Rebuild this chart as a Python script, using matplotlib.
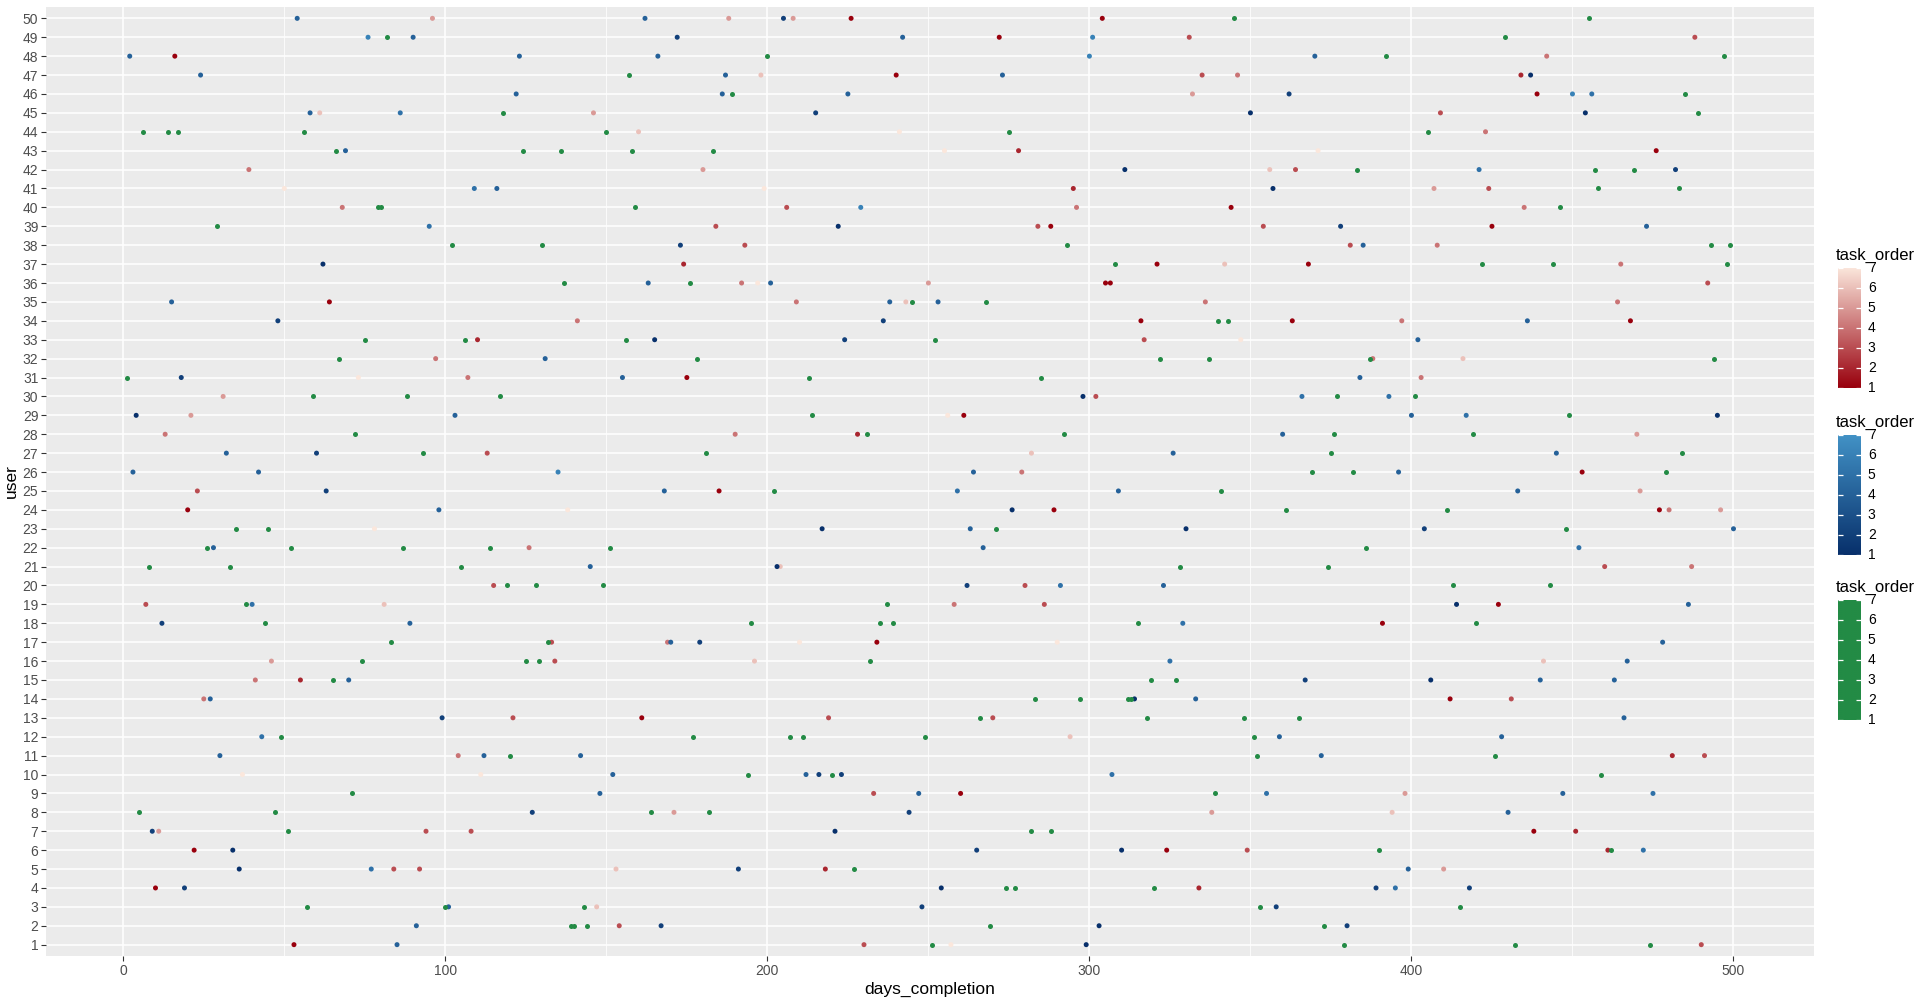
import numpy as np
import matplotlib
matplotlib.use("Agg")
import matplotlib.pyplot as plt
from matplotlib.colors import LinearSegmentedColormap, Normalize

plt.rcParams['font.family'] = ['Liberation Sans', 'DejaVu Sans']

# (user, days_completion, task_order)
red_pts = [
    (50, 96, 5), (50, 188, 5), (50, 208, 5), (50, 226, 1), (50, 304, 1),
    (49, 272, 1), (49, 331, 3), (49, 488, 3),
    (48, 16, 1), (48, 442, 4),
    (47, 198, 6), (47, 240, 1), (47, 335, 3), (47, 346, 4), (47, 434, 2),
    (46, 332, 5), (46, 439, 1),
    (45, 61, 6), (45, 146, 5), (45, 409, 3),
    (44, 160, 6), (44, 241, 7), (44, 423, 4),
    (43, 255, 7), (43, 278, 2), (43, 371, 7), (43, 476, 1),
    (42, 39, 4), (42, 180, 5), (42, 356, 6), (42, 364, 3),
    (41, 50, 7), (41, 199, 7), (41, 295, 2), (41, 407, 5), (41, 424, 3),
    (40, 68, 4), (40, 206, 3), (40, 296, 4), (40, 344, 1), (40, 435, 4),
    (39, 184, 3), (39, 284, 3), (39, 288, 1), (39, 354, 3), (39, 425, 1),
    (38, 193, 3), (38, 381, 3), (38, 408, 4),
    (37, 174, 2), (37, 321, 1), (37, 342, 6), (37, 368, 1), (37, 465, 4),
    (36, 192, 4), (36, 197, 7), (36, 250, 5), (36, 305, 1), (36, 306.5, 1), (36, 492, 3),
    (35, 64, 1), (35, 209, 4), (35, 243, 6), (35, 336, 4), (35, 464, 4),
    (34, 141, 4), (34, 316, 1), (34, 363, 1), (34, 397, 4), (34, 468, 1),
    (33, 110, 2), (33, 317, 3), (33, 347, 7),
    (32, 97, 4), (32, 388, 4), (32, 416, 6),
    (31, 73, 7), (31, 107, 4), (31, 175, 1), (31, 403, 4),
    (30, 31, 5), (30, 302, 3),
    (29, 21, 5), (29, 256, 7), (29, 261, 1),
    (28, 13, 4), (28, 190, 4), (28, 228, 2), (28, 470, 5),
    (27, 113, 3), (27, 282, 6),
    (26, 279, 4), (26, 453, 1),
    (25, 23, 3), (25, 185, 1), (25, 471, 5),
    (24, 20, 1), (24, 138, 7), (24, 289, 1), (24, 477, 1), (24, 480, 4), (24, 496, 5),
    (23, 78, 7),
    (22, 126, 4),
    (21, 204, 6), (21, 460, 3), (21, 487, 4),
    (20, 115, 3), (20, 280, 3),
    (19, 7, 3), (19, 81, 6), (19, 258, 4), (19, 286, 3), (19, 427, 1),
    (18, 391, 1),
    (17, 133, 3), (17, 169, 4), (17, 210, 7), (17, 234, 1), (17, 290, 7),
    (16, 46, 5), (16, 134, 3), (16, 196, 6), (16, 441, 6),
    (15, 41, 4), (15, 55, 2),
    (14, 25, 4), (14, 412, 1), (14, 431, 3),
    (13, 121, 3), (13, 161, 1), (13, 219, 3), (13, 270, 3),
    (12, 294, 6),
    (11, 104, 4), (11, 481, 2), (11, 491, 3),
    (10, 37, 7), (10, 111, 7),
    (9, 233, 3), (9, 260, 1), (9, 398, 5),
    (8, 171, 5), (8, 338, 5), (8, 394, 6),
    (7, 11, 5), (7, 94, 3), (7, 108, 3), (7, 438, 1), (7, 451, 2),
    (6, 22, 1), (6, 324, 1), (6, 349, 3), (6, 461, 2),
    (5, 84, 3), (5, 92, 3), (5, 153, 6), (5, 218, 2), (5, 410, 5),
    (4, 10, 1), (4, 334, 2),
    (3, 147, 6),
    (2, 154, 3),
    (1, 53, 1), (1, 230, 3), (1, 257, 7), (1, 490, 3),
]

blue_pts = [
    (50, 54, 4), (50, 162, 4), (50, 205, 2),
    (49, 76, 6), (49, 90, 4), (49, 172, 2), (49, 242, 4), (49, 301, 6),
    (48, 2, 4), (48, 123, 4), (48, 166, 4), (48, 300, 6), (48, 370, 4),
    (47, 24, 4), (47, 187, 4), (47, 273, 4), (47, 437, 1),
    (46, 122, 4), (46, 186, 4), (46, 225, 4), (46, 362, 2), (46, 450, 6), (46, 456, 5),
    (45, 58, 4), (45, 86, 5), (45, 215, 2), (45, 350, 1), (45, 454, 1),
    (43, 69, 4),
    (42, 311, 1), (42, 421, 5), (42, 482, 2),
    (41, 109, 5), (41, 116, 4), (41, 357, 1),
    (40, 229, 6),
    (39, 95, 5), (39, 222, 1), (39, 378, 2), (39, 473, 4),
    (38, 173, 2), (38, 385, 4),
    (37, 62, 1),
    (36, 163, 4), (36, 201, 4),
    (35, 15, 4), (35, 238, 4), (35, 253, 4),
    (34, 48, 2), (34, 236, 2), (34, 436, 4),
    (33, 165, 1), (33, 224, 2), (33, 402, 4),
    (32, 131, 4),
    (31, 18, 2), (31, 155, 4), (31, 384, 4),
    (30, 298, 1), (30, 366, 5), (30, 393, 5),
    (29, 4, 1), (29, 103, 4), (29, 400, 4), (29, 417, 5), (29, 495, 1),
    (28, 360, 4),
    (27, 32, 4), (27, 60, 2), (27, 326, 4), (27, 445, 4),
    (26, 3, 4), (26, 42, 4), (26, 135, 6), (26, 264, 4), (26, 396, 4),
    (25, 63, 2), (25, 168, 4), (25, 259, 5), (25, 309, 4), (25, 433, 4),
    (24, 98, 4), (24, 276, 1),
    (23, 217, 1), (23, 263, 4), (23, 330, 1), (23, 404, 2), (23, 500, 4),
    (22, 28, 4), (22, 267, 4), (22, 452, 5),
    (21, 145, 4), (21, 203, 1),
    (20, 262, 2), (20, 291, 5), (20, 323, 4),
    (19, 40, 5), (19, 414, 1), (19, 486, 4),
    (18, 12, 2), (18, 89, 4), (18, 329, 5),
    (17, 170, 4), (17, 179, 2), (17, 478, 4),
    (16, 325, 5), (16, 467, 4),
    (15, 70, 4), (15, 367, 2), (15, 406, 1), (15, 440, 4), (15, 463, 4),
    (14, 27, 4), (14, 314, 1), (14, 333, 4),
    (13, 99, 2), (13, 466, 4),
    (12, 43, 5), (12, 359, 4), (12, 428, 4),
    (11, 30, 4), (11, 112, 4), (11, 142, 4), (11, 372, 4),
    (10, 152, 4), (10, 212, 4), (10, 216, 2), (10, 223, 2), (10, 307, 5),
    (9, 148, 4), (9, 247, 4), (9, 355, 5), (9, 447, 4), (9, 475, 5),
    (8, 127, 2), (8, 244, 2), (8, 430, 4),
    (7, 9, 2), (7, 221, 1),
    (6, 34, 1), (6, 265, 2), (6, 310, 1), (6, 472, 5),
    (5, 36, 1), (5, 77, 5), (5, 191, 2), (5, 399, 4),
    (4, 19, 2), (4, 254, 1), (4, 389, 2), (4, 395, 5), (4, 418, 2),
    (3, 101, 4), (3, 248, 2), (3, 358, 2),
    (2, 91, 4), (2, 167, 2), (2, 303, 1), (2, 380, 2),
    (1, 85, 4), (1, 299, 1),
]

# green points all render in one shade, so only position is kept
green_pts = [
    (50, 345), (50, 455),
    (49, 82), (49, 429),
    (48, 200), (48, 392), (48, 497),
    (47, 157),
    (46, 189), (46, 485),
    (45, 118), (45, 489),
    (44, 6), (44, 14), (44, 17), (44, 56), (44, 150), (44, 275), (44, 405),
    (43, 66), (43, 124), (43, 136), (43, 158), (43, 183),
    (42, 383), (42, 457), (42, 469),
    (41, 458), (41, 483),
    (40, 79), (40, 80), (40, 159), (40, 446),
    (39, 29),
    (38, 102), (38, 130), (38, 293), (38, 493), (38, 499),
    (37, 308), (37, 422), (37, 444), (37, 498),
    (36, 137), (36, 176),
    (35, 245), (35, 268),
    (34, 340), (34, 343),
    (33, 75), (33, 106), (33, 156), (33, 252),
    (32, 67), (32, 178), (32, 322), (32, 337), (32, 387), (32, 494),
    (31, 1), (31, 213), (31, 285),
    (30, 59), (30, 88), (30, 117), (30, 377), (30, 401),
    (29, 214), (29, 449),
    (28, 72), (28, 231), (28, 292), (28, 376), (28, 419),
    (27, 93), (27, 181), (27, 375), (27, 484),
    (26, 369), (26, 382), (26, 479),
    (25, 202), (25, 341),
    (24, 361), (24, 411),
    (23, 35), (23, 45), (23, 271), (23, 448),
    (22, 26), (22, 52), (22, 87), (22, 114), (22, 151), (22, 386),
    (21, 8), (21, 33), (21, 105), (21, 328), (21, 374),
    (20, 119), (20, 128), (20, 149), (20, 413), (20, 443),
    (19, 38), (19, 237),
    (18, 44), (18, 195), (18, 235), (18, 239), (18, 315), (18, 420),
    (17, 83), (17, 132),
    (16, 74), (16, 125), (16, 129), (16, 232),
    (15, 65), (15, 319), (15, 327),
    (14, 283), (14, 297), (14, 312), (14, 313),
    (13, 266), (13, 318), (13, 348), (13, 365),
    (12, 49), (12, 177), (12, 207), (12, 211), (12, 249), (12, 351),
    (11, 120), (11, 352), (11, 426),
    (10, 194), (10, 220), (10, 459),
    (9, 71), (9, 339),
    (8, 5), (8, 47), (8, 164), (8, 182),
    (7, 51), (7, 282), (7, 288),
    (6, 390), (6, 462),
    (5, 227),
    (4, 274), (4, 277), (4, 320),
    (3, 57), (3, 100), (3, 143), (3, 353), (3, 415),
    (2, 139), (2, 140), (2, 144), (2, 269), (2, 373),
    (1, 251), (1, 379), (1, 432), (1, 474),
]

users = list(range(1, 51))
x_breaks = [0, 100, 200, 300, 400, 500]
order_breaks = [1, 2, 3, 4, 5, 6, 7]

red_cmap = LinearSegmentedColormap.from_list('reds', ['#99000d', '#fbe7dc'])
blue_cmap = LinearSegmentedColormap.from_list('blues', ['#08306b', '#4292c6'])
green_cmap = LinearSegmentedColormap.from_list('greens', ['#238b45', '#238b45'])
norm = Normalize(1, 7)

W, H = 1920, 1001
fig = plt.figure(figsize=(W / 100, H / 100), dpi=100)
L, R, T, B = 46, 1814, 7, 956
ax = fig.add_axes([L / W, 1 - B / H, (R - L) / W, (B - T) / H])
ax.set_facecolor('#ebebeb')
for s in ax.spines.values():
    s.set_visible(False)

ax.set_xlim(-24, 525)
ax.set_ylim(0.4, 50.6)
ax.set_xticks(x_breaks)
ax.set_xticks([50, 150, 250, 350, 450], minor=True)
ax.set_yticks(users)
ax.set_yticklabels([str(u) for u in users])
ax.grid(which='major', color='white', linewidth=1.1)
ax.grid(which='minor', axis='x', color='white', linewidth=0.55)
ax.set_axisbelow(True)
ax.tick_params(which='major', length=3.5, width=0.8, color='#333333',
               labelcolor='#4d4d4d', labelsize=10, pad=2)
ax.tick_params(which='minor', length=0)
ax.set_xlabel('days_completion', fontsize=12.5, labelpad=3)
ax.set_ylabel('user', fontsize=12.5, labelpad=3)

r = np.array(red_pts, dtype=float)
b = np.array(blue_pts, dtype=float)
g = np.array(green_pts, dtype=float)
ms = 13
ax.scatter(r[:, 1], r[:, 0], c=r[:, 2], cmap=red_cmap, norm=norm, s=ms, linewidths=0, zorder=3)
ax.scatter(b[:, 1], b[:, 0], c=b[:, 2], cmap=blue_cmap, norm=norm, s=ms, linewidths=0, zorder=4)
ax.scatter(g[:, 1], g[:, 0], color='#238b45', s=ms, linewidths=0, zorder=5)

# three stacked colour bars on the right
grad = np.linspace(1, 7, 300).reshape(-1, 1)
bar_x, bar_w, bar_h = 1838, 23, 120
for top, cmap in [(268, red_cmap), (435, blue_cmap), (600, green_cmap)]:
    cax = fig.add_axes([bar_x / W, 1 - (top + bar_h) / H, bar_w / W, bar_h / H])
    cax.imshow(grad, cmap=cmap, norm=norm, aspect='auto', origin='lower',
               extent=[0, 1, 1, 7])
    cax.set_xlim(0, 1)
    cax.set_ylim(1, 7)
    for s in cax.spines.values():
        s.set_visible(False)
    cax.set_xticks([])
    cax.set_yticks([])
    for v in order_breaks:
        cax.plot([0, 0.2], [v, v], color='white', lw=0.9, solid_capstyle='butt')
        cax.plot([0.8, 1], [v, v], color='white', lw=0.9, solid_capstyle='butt')
        cax.text(1.3, v, str(v), va='center', ha='left', fontsize=10,
                 transform=cax.transData, clip_on=False)
    fig.text(1836 / W, 1 - (top - 13) / H, 'task_order', fontsize=12,
             ha='left', va='center')

fig.savefig('out.png', dpi=100)
